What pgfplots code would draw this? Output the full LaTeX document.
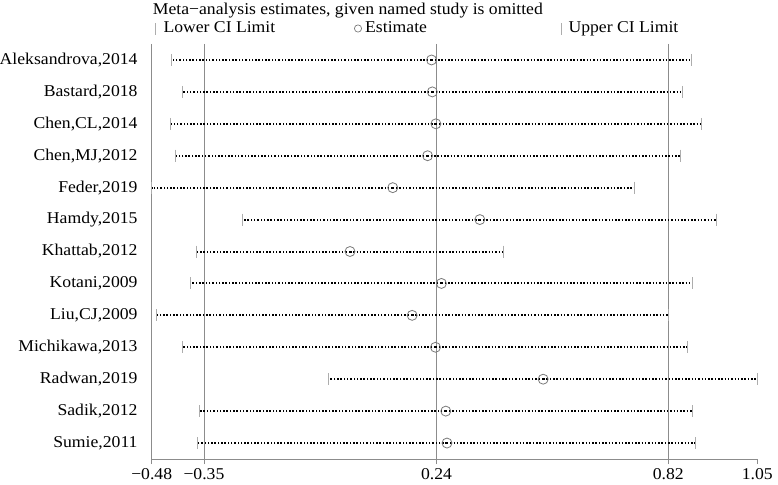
\documentclass[border=0pt]{standalone}
\usepackage{fontspec}
\setmainfont{Liberation Serif}[FakeStretch=1.07]
\usepackage{pgfplots}
\pgfplotsset{compat=1.18}
\usepackage{pgfplotstable}
\definecolor{axgray}{HTML}{8C8C8C}
\definecolor{capgray}{HTML}{ADADAD}
\definecolor{estgray}{HTML}{7A7A7A}

\pgfplotstableread{
y L E U
1 -0.430 0.227 0.883
2 -0.402 0.229 0.860
3 -0.432 0.238 0.909
4 -0.419 0.217 0.855
5 -0.480 0.129 0.739
6 -0.250 0.349 0.948
7 -0.366 0.021 0.408
8 -0.383 0.252 0.886
9 -0.469 0.178 0.825
10 -0.403 0.237 0.873
11 -0.034 0.509 1.050
12 -0.360 0.263 0.887
13 -0.364 0.266 0.895
}\metadata

\newcommand{\labfont}{\fontsize{16.5pt}{19pt}\selectfont}

\begin{document}
\labfont
\begin{tikzpicture}
\useasboundingbox (0,0) rectangle (778pt,484pt);
\begin{axis}[
  at={(151.7pt,25pt)}, anchor=south west,
  scale only axis, width=605.6pt, height=415pt,
  xmin=-0.48, xmax=1.05, ymin=0.5, ymax=13.5, y dir=reverse,
  axis lines*=left,
  axis line style={axgray, line width=0.8pt},
  xtick={-0.48,-0.348,0.2395,0.825,1.05},
  xticklabels={−0.48,−0.35,0.24,0.82,1.05},
  xtick style={axgray, line width=0.8pt},
  major tick length=5pt, tick align=outside,
  xticklabel style={inner sep=0pt, yshift=-4pt},
  ytick={1,...,13},
  yticklabels={{Aleksandrova,2014},{Bastard,2018},{Chen,CL,2014},{Chen,MJ,2012},{Feder,2019},{Hamdy,2015},{Khattab,2012},{Kotani,2009},{Liu,CJ,2009},{Michikawa,2013},{Radwan,2019},{Sadik,2012},{Sumie,2011}},
  ytick style={draw=none},
  yticklabel style={xshift=-3.5pt},
  tick label style={font=\labfont},
  clip=false,
]
% reference lines
\addplot[axgray, line width=0.8pt] coordinates {(-0.348,0.5) (-0.348,13.5)};
\addplot[axgray, line width=0.8pt] coordinates {(0.2395,0.5) (0.2395,13.5)};
\addplot[axgray, line width=0.8pt] coordinates {(0.825,0.5) (0.825,13.5)};
% dotted CI lines
\addplot[draw=none, mark=none,
  error bars/.cd, x dir=both, x explicit, error mark=none,
  error bar style={black, line width=2pt, dash pattern=on 1.5pt off 1.8pt}]
  table[x=E, y=y, x error plus expr=\thisrow{U}-\thisrow{E}, x error minus expr=\thisrow{E}-\thisrow{L}] {\metadata};
% lower caps
\addplot[only marks, mark=|, mark size=6pt, mark options={draw=capgray, line width=1pt}]
  table[x=L, y=y] {\metadata};
% estimates
\addplot[only marks, mark=o, mark size=5pt, mark options={draw=estgray, line width=0.8pt}]
  table[x=E, y=y] {\metadata};
% upper caps
\addplot[only marks, mark=|, mark size=6pt, mark options={draw=capgray, line width=1pt}]
  table[x=U, y=y] {\metadata};
\end{axis}
% title and legend
\node[anchor=base west, inner sep=0pt] at (152.7pt,469pt) {Meta−analysis estimates, given named study is omitted};
\draw[capgray, line width=0.8pt] (155pt,449pt) -- (155pt,461pt);
\node[anchor=base west, inner sep=0pt] at (163.3pt,451pt) {Lower CI Limit};
\draw[estgray, line width=0.7pt] (358pt,455.5pt) circle (3.6pt);
\node[anchor=base west, inner sep=0pt] at (365pt,451pt) {Estimate};
\draw[capgray, line width=0.8pt] (561.7pt,449pt) -- (561.7pt,461pt);
\node[anchor=base west, inner sep=0pt] at (568.3pt,451pt) {Upper CI Limit};
\end{tikzpicture}
\end{document}
